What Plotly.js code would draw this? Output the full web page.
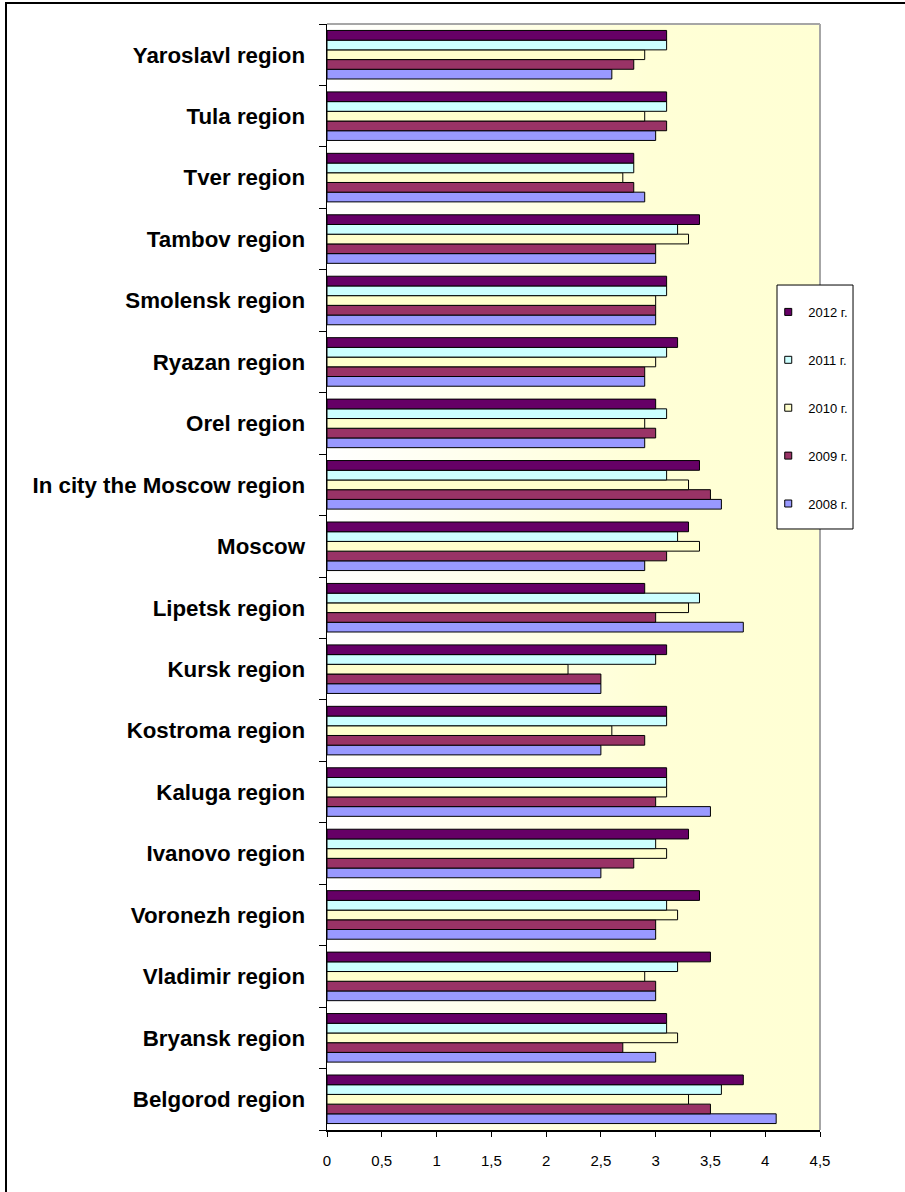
<!DOCTYPE html>
<html>
<head>
<meta charset="utf-8">
<script src="https://cdn.plot.ly/plotly-3.0.1.min.js"></script>
<style>
  html, body { margin: 0; padding: 0; background: #fff; }
  #wrap { position: relative; width: 905px; height: 1192px; overflow: hidden; }
  #chart { position: absolute; left: 0; top: 0; width: 905px; height: 1192px; }
  #frame { position: absolute; left: 5px; top: 2px; width: 920px; height: 1220px;
           border-top: 2px solid #000; border-left: 2px solid #000; pointer-events: none; }
</style>
</head>
<body>
<div id="wrap">
  <div id="chart"></div>
  <div id="frame"></div>
</div>
<script>
// Categories, bottom to top
const regions = [
  "Belgorod region", "Bryansk region", "Vladimir region", "Voronezh region",
  "Ivanovo region", "Kaluga region", "Kostroma region", "Kursk region",
  "Lipetsk region", "Moscow", "In city the Moscow region", "Orel region",
  "Ryazan region", "Smolensk region", "Tambov region", "Tver region",
  "Tula region", "Yaroslavl region"
];
const years = ["2008 г.", "2009 г.", "2010 г.", "2011 г.", "2012 г."];
const v2008 = [4.1, 3.0, 3.0, 3.0, 2.5, 3.5, 2.5, 2.5, 3.8, 2.9, 3.6, 2.9, 2.9, 3.0, 3.0, 2.9, 3.0, 2.6];
const v2009 = [3.5, 2.7, 3.0, 3.0, 2.8, 3.0, 2.9, 2.5, 3.0, 3.1, 3.5, 3.0, 2.9, 3.0, 3.0, 2.8, 3.1, 2.8];
const v2010 = [3.3, 3.2, 2.9, 3.2, 3.1, 3.1, 2.6, 2.2, 3.3, 3.4, 3.3, 2.9, 3.0, 3.0, 3.3, 2.7, 2.9, 2.9];
const v2011 = [3.6, 3.1, 3.2, 3.1, 3.0, 3.1, 3.1, 3.0, 3.4, 3.2, 3.1, 3.1, 3.1, 3.1, 3.2, 2.8, 3.1, 3.1];
const v2012 = [3.8, 3.1, 3.5, 3.4, 3.3, 3.1, 3.1, 3.1, 2.9, 3.3, 3.4, 3.0, 3.2, 3.1, 3.4, 2.8, 3.1, 3.1];
const xTicks = [0, 0.5, 1, 1.5, 2, 2.5, 3, 3.5, 4, 4.5];

const seriesValues = [v2008, v2009, v2010, v2011, v2012];
const colors = ["#9999FF", "#993366", "#FFFFCC", "#CCFFFF", "#660066"];

const barTraces = seriesValues.map((vals, i) => ({
  type: "bar",
  orientation: "h",
  name: years[i],
  y: regions,
  x: vals,
  showlegend: false,
  marker: { color: colors[i], line: { color: "#000000", width: 1 } }
}));

// legend-only entries (small square swatches), listed 2012 -> 2008
const legendTraces = [4, 3, 2, 1, 0].map((i, k) => ({
  type: "scatter",
  mode: "markers",
  name: years[i],
  x: [null], y: [null],
  legendgroup: "g" + k,
  showlegend: true,
  marker: { symbol: "square", size: 7, color: colors[i], line: { color: "#000000", width: 1 } }
}));

const svg = '<svg xmlns="http://www.w3.org/2000/svg" width="100" height="100" viewBox="0 0 100 100" preserveAspectRatio="none">' +
  '<defs><linearGradient id="g" x1="0" y1="0" x2="1" y2="0">' +
  '<stop offset="0" stop-color="#FFFFFF"/><stop offset="0.65" stop-color="#FFFFD6"/><stop offset="1" stop-color="#FFFFD4"/>' +
  '</linearGradient></defs><rect x="0" y="0" width="100" height="100" fill="url(#g)"/></svg>';
const bgSrc = "data:image/svg+xml;charset=utf-8," + encodeURIComponent(svg);

const layout = {
  width: 905, height: 1192,
  margin: { l: 327, r: 85, t: 24, b: 62 },
  paper_bgcolor: "rgba(0,0,0,0)",
  plot_bgcolor: "rgba(0,0,0,0)",
  separators: ", ",
  barmode: "group",
  bargap: 0.21,
  bargroupgap: 0,
  showlegend: true,
  font: { family: "Liberation Sans, Arial, sans-serif", color: "#000" },
  xaxis: {
    range: [0, 4.5],
    tickvals: xTicks,
    ticks: "outside", ticklen: 5, tickcolor: "#000", tickwidth: 1,
    showline: true, linecolor: "#000", linewidth: 1.5,
    showgrid: false, zeroline: false,
    tickfont: { size: 15, family: "Liberation Sans, Arial, sans-serif" },
    ticklabelstandoff: 11,
    fixedrange: true
  },
  yaxis: {
    type: "category",
    categoryorder: "array", categoryarray: regions,
    tickson: "boundaries",
    ticks: "outside", ticklen: 7, tickcolor: "#000", tickwidth: 1,
    showline: true, linecolor: "#000", linewidth: 1.5,
    showgrid: false, zeroline: false,
    tickfont: { size: 22.3, family: "Liberation Sans, Arial, sans-serif", weight: "bold" },
    ticklabelstandoff: 16,
    fixedrange: true
  },
  legend: {
    x: 0.895, y: 0.7532, xanchor: "left", yanchor: "top",
    bgcolor: "rgba(0,0,0,0)", borderwidth: 0,
    font: { size: 13 },
    traceorder: "grouped",
    tracegroupgap: 28,
    itemwidth: 30
  },
  images: [{
    source: bgSrc, xref: "paper", yref: "paper",
    x: 0, y: 1, sizex: 1, sizey: 1, xanchor: "left", yanchor: "top",
    sizing: "stretch", layer: "below"
  }],
  shapes: [
    { type: "line", xref: "paper", yref: "paper", x0: 0, x1: 1, y0: 1, y1: 1, line: { color: "#A6A6A6", width: 2 } },
    { type: "line", xref: "paper", yref: "paper", x0: 1, x1: 1, y0: 0, y1: 1, line: { color: "#A6A6A6", width: 2 } },
    // legend box
    { type: "rect", xref: "paper", yref: "paper", x0: 0.9128, x1: 1.067, y0: 0.5434, y1: 0.764,
      fillcolor: "#FFFFFF", line: { color: "#000000", width: 1 }, layer: "above" }
  ]
};

Plotly.newPlot("chart", barTraces.concat(legendTraces), layout, { displayModeBar: false, staticPlot: true });
</script>
</body>
</html>
